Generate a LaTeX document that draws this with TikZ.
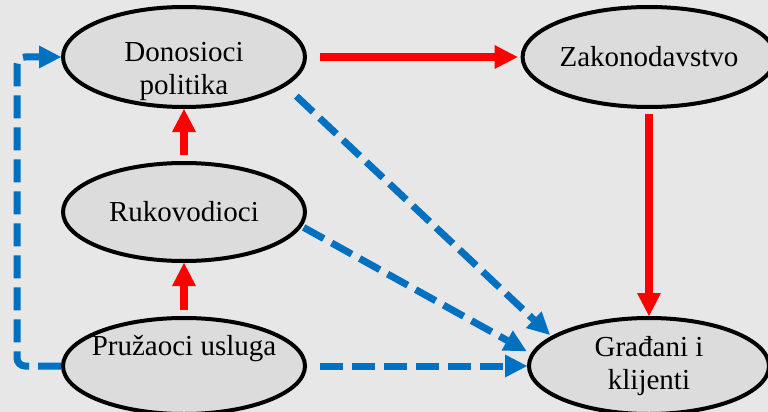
\documentclass[tikz,border=0pt]{standalone}
\usepackage{fontspec}
\setmainfont{Liberation Serif}
\usetikzlibrary{shapes.geometric,arrows.meta}
\definecolor{bgGray}{HTML}{E7E7E7}
\definecolor{ovalGray}{HTML}{DCDCDC}
\definecolor{flowRed}{HTML}{FF0000}
\definecolor{flowBlue}{HTML}{0070C0}
\tikzset{
  oval/.style={ellipse,draw=black,line width=4pt,fill=ovalGray,inner sep=0pt,
    minimum width=242pt,align=center,font=\fontsize{29}{33}\selectfont},
  txt/.style={align=center,font=\fontsize{29}{33}\selectfont},
  redflow/.style={draw=flowRed,line width=8pt,
    -{Triangle[length=23pt,width=24pt,line width=0pt]}},
  blueflow/.style={draw=flowBlue,line width=7pt,dash pattern=on 23pt off 9pt,
    -{Triangle[length=22pt,width=23pt,line width=0pt]}},
}
\begin{document}
\begin{tikzpicture}[x=1pt,y=-1pt]
    \fill[bgGray] (0,0) rectangle (768,412);
    \useasboundingbox (0,0) rectangle (768,412);
    % ovals
    \node[oval,minimum height=100pt] (don) at (184,57) {};
    \node[txt] (donT) at ([yshift=-14pt]don.center) {Donosioci\\politika};
    \node[oval,minimum width=234pt,minimum height=100pt] (zak) at (649,57) {Zakonodavstvo};
    \node[oval,minimum height=98pt] (ruk) at (184,212) {Rukovodioci};
    \node[oval,minimum height=96pt] (pru) at (184,366) {};
    \node[txt] (pruT) at ([yshift=17pt]pru.center) {Pružaoci usluga};
    \node[oval,minimum width=240pt,minimum height=96pt] (gra) at (649,366) {Građani i\\klijenti};
    \coordinate (loop) at (17,57);
    % red arrows
    \draw[redflow,shorten <=13pt,shorten >=3pt] (don.east) -- (zak.west);
    \draw[redflow,shorten <=5pt] (zak.south) -- (gra.north);
    \draw[redflow,shorten <=6pt] (ruk.north) -- (don.south);
    \draw[redflow,shorten <=6pt] (pru.north) -- (ruk.south);
    % blue dashed arrows
    \draw[blueflow,shorten <=14.5pt,shorten >=2pt] (don.-16) -- (gra.163);
    \draw[blueflow,shorten <=2pt,shorten >=5pt] (ruk.-7) -- (gra.174);
    \draw[blueflow,shorten <=13pt] (pru.east) -- (gra.west);
    \draw[blueflow,rounded corners=8pt] (pru.west) -| (loop) -- (don.west);
\end{tikzpicture}
\end{document}
